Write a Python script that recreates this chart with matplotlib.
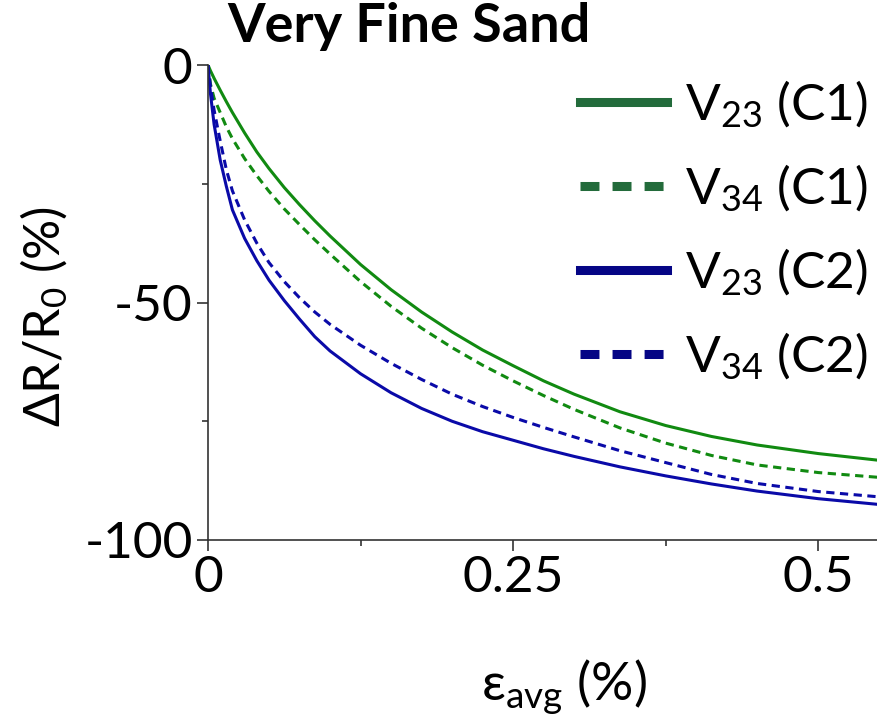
import matplotlib
matplotlib.use("Agg")
import matplotlib.pyplot as plt
from matplotlib.lines import Line2D

plt.rcParams['font.family'] = ['Lato', 'DejaVu Sans']
plt.rcParams['mathtext.fontset'] = 'custom'
plt.rcParams['mathtext.rm'] = 'Lato'
plt.rcParams['mathtext.it'] = 'Lato'
plt.rcParams['mathtext.bf'] = 'Lato:bold'
plt.rcParams['axes.unicode_minus'] = False

# strain (%)
strain = [0, 0.002, 0.005, 0.01, 0.015, 0.02, 0.03, 0.04, 0.05, 0.0625, 0.075,
          0.0875, 0.1, 0.125, 0.15, 0.175, 0.2, 0.225, 0.25, 0.275, 0.3, 0.3375,
          0.375, 0.4125, 0.45, 0.5, 0.549]
# dR/R0 (%)
v23_c1 = [0, -1.2, -2.8, -5.3, -7.7, -10, -14.3, -18.3, -21.8, -25.8, -29.4,
          -32.8, -36, -42, -47.3, -52, -56.2, -60, -63.3, -66.5, -69.3, -73,
          -75.9, -78.2, -80, -81.8, -83.2]
v34_c1 = [0, -4, -7, -10, -13, -15.5, -19.7, -23.3, -26.6, -30.3, -33.6,
          -36.8, -39.8, -45.6, -50.8, -55.4, -59.5, -63.2, -66.5, -69.6, -72.5, -76.4,
          -79.6, -82.2, -84.2, -85.8, -86.8]
v23_c2 = [0, -6, -12.5, -20, -25.5, -30.5, -36.5, -41.2, -45.3, -49.6, -53.5,
          -57.2, -60.2, -65, -69, -72.3, -75, -77.2, -79, -80.8, -82.4, -84.6,
          -86.5, -88.2, -89.7, -91.3, -92.5]
v34_c2 = [0, -4.5, -9.5, -16, -22, -26.5, -32.6, -37.5, -41.6, -45.6, -49,
          -52, -54.6, -59, -62.8, -66.2, -69.3, -71.9, -74.2, -76.3, -78.3, -81.2,
          -83.7, -86.2, -88.1, -89.8, -90.9]

labels = ['V$_{23}$ (C1)', 'V$_{34}$ (C1)', 'V$_{23}$ (C2)', 'V$_{34}$ (C2)']
xticks = [0, 0.25, 0.5]
xticklabels = ['0', '0.25', '0.5']
yticks = [0, -50, -100]
yticklabels = ['0', '-50', '-100']

green = '#118a11'
blue = '#0a0aa8'
green_leg = '#236b3b'
blue_leg = '#050585'

fig = plt.figure(figsize=(8.78, 7.19), dpi=100)
ax = fig.add_axes([208/878, 1-540/719, 1-208/878, (540-65)/719])

lw = 2.2
ax.plot(strain, v23_c1, color=green, lw=lw)
ax.plot(strain, v34_c1, color=green, lw=lw, dashes=(2.7, 1.8))
ax.plot(strain, v23_c2, color=blue, lw=lw)
ax.plot(strain, v34_c2, color=blue, lw=lw, dashes=(2.7, 1.8))

ax.set_xlim(0, 0.549)
ax.set_ylim(-100, 0)
ax.set_xticks(xticks)
ax.set_xticklabels(xticklabels)
ax.set_xticks([0.125, 0.375], minor=True)
ax.set_yticks(yticks)
ax.set_yticklabels(yticklabels)
ax.set_yticks([-25, -75], minor=True)
for s in ['top', 'right']:
    ax.spines[s].set_visible(False)
for s in ['left', 'bottom']:
    ax.spines[s].set_color('#333333')
    ax.spines[s].set_linewidth(1.2)
ax.tick_params(which='major', length=8, width=1.2, color='#333333', labelsize=37, pad=3)
ax.tick_params(which='minor', length=4, width=1.2, color='#333333')

ax.set_xlabel('ε$_{\\mathrm{avg}}$ (%)', fontsize=38)
ax.xaxis.set_label_coords((564-208)/670, (540-658)/475)
ax.set_ylabel('ΔR/R$_0$ (%)', fontsize=36)
ax.yaxis.set_label_coords((70-208)/670, (540-317)/475)

handles = [
    Line2D([], [], color=green_leg, lw=6.5),
    Line2D([], [], color=green_leg, lw=6.5, dashes=(2.1, 1.45)),
    Line2D([], [], color=blue_leg, lw=6.5),
    Line2D([], [], color=blue_leg, lw=6.5, dashes=(2.1, 1.45)),
]
leg = ax.legend(handles, labels, loc='upper right',
                bbox_to_anchor=((868-208)/670, (540-78)/475),
                fontsize=37, frameon=False, handlelength=1.7, handletextpad=0.35,
                labelspacing=0.63, borderaxespad=0, borderpad=0)

fig.text(409/878, 1-42/719, 'Very Fine Sand', fontsize=39, fontweight='bold',
         ha='center', va='baseline')

fig.savefig('out.png', dpi=100)
